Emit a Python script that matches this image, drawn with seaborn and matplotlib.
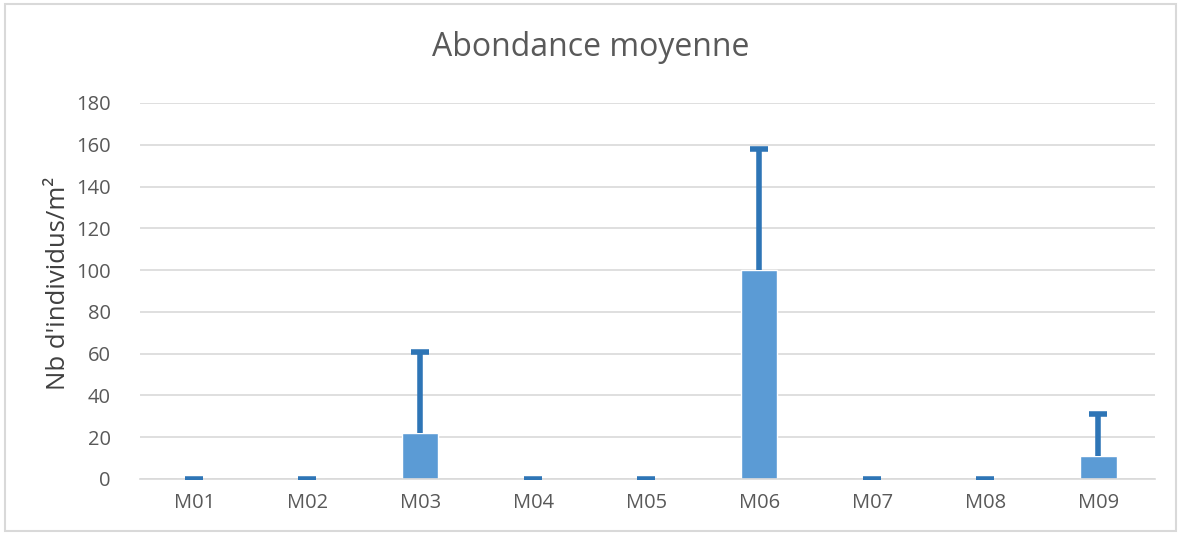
import numpy as np
import pandas as pd
import matplotlib.pyplot as plt
import seaborn as sns
from matplotlib.patches import Rectangle

sns.set_style('white')
plt.rcParams['font.family'] = ['Open Sans', 'DejaVu Sans']

stations = ['M01', 'M02', 'M03', 'M04', 'M05', 'M06', 'M07', 'M08', 'M09']
abondance = [0, 0, 22, 0, 0, 100, 0, 0, 11]
ecart_type = [0, 0, 39, 0, 0, 58, 0, 0, 20]

df = pd.DataFrame({'station': stations, 'abondance': abondance, 'sd': ecart_type})
df['haut'] = df['abondance'] + df['sd']

fig = plt.figure(figsize=(11.81, 5.35), dpi=100)
ax = fig.add_axes([0.1185, 0.1047, 0.8595, 0.7028])

sns.barplot(data=df, x='station', y='abondance', color='#5B9BD5', saturation=1,
            width=0.32, ax=ax, zorder=2)
# barres d'erreur (partie haute seulement)
pos = np.arange(len(stations))
ax.vlines(pos, df['abondance'], df['haut'], color='#2E75B6', linewidth=4, zorder=3)
ax.scatter(pos, df['haut'], marker='_', s=170, linewidths=4, color='#2E75B6', zorder=4)

ax.set_ylim(0, 180)
ax.set_yticks(range(0, 181, 20))
ax.set_xlim(-0.48, 8.5)
ax.yaxis.grid(True, color='#D9D9D9', linewidth=1.2)
ax.set_axisbelow(True)
for s in ['top', 'right', 'left']:
    ax.spines[s].set_visible(False)
ax.spines['bottom'].set_color('#D9D9D9')
ax.spines['bottom'].set_linewidth(1.2)
ax.tick_params(axis='y', length=0, labelsize=14.5, colors='#595959', pad=21)
ax.tick_params(axis='x', length=0, labelsize=14.5, colors='#595959', pad=10)
ax.set_xlabel('')
ax.set_ylabel("Nb d'individus/m²", fontsize=18.5, color='#404040')
ax.yaxis.set_label_coords(-0.068, 0.52)
fig.text(0.5, 0.912, 'Abondance moyenne', ha='center', va='center', fontsize=23, color='#595959')

fig.patches.append(Rectangle((0.004, 0.008), 0.992, 0.984, transform=fig.transFigure,
                             fill=False, edgecolor='#D9D9D9', linewidth=1.5))

fig.savefig('out.png', dpi=100)
